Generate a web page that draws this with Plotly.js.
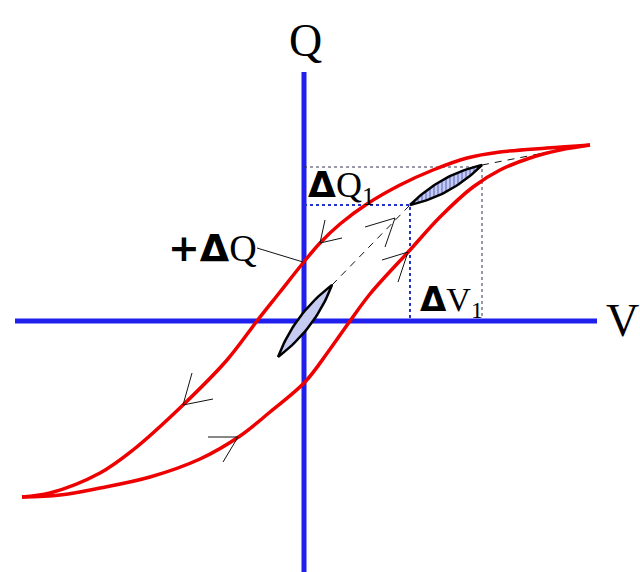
<!DOCTYPE html>
<html><head><meta charset="utf-8">
<script src="https://cdn.plot.ly/plotly-3.0.1.min.js"></script>
<style>html,body{margin:0;padding:0;background:#fff}#chart{width:640px;height:572px}</style>
</head><body><div id="chart"></div>
<script>
// Hysteresis loop (origin at axis crossing, 1 unit ≈ 1 px)
const upperV = [286, 243, 196, 163, 129, 96, 63, 36, 16, -1, -24, -47, -77, -121, -171, -204, -254, -282];
const upperQ = [176, 173, 169, 163, 151, 136, 117, 97, 78, 58, 29, 0, -39, -84, -129, -152, -172, -176];
const lowerV = [-282, -244, -204, -154, -104, -64, -34, 1, 24, 46, 66, 106, 136, 169, 196, 226, 256, 286];
const lowerQ = [-176, -174, -167, -156, -138, -115, -91, -61, -31, 0, 27, 71, 104, 134, 151, 163, 171, 176];

// axes extents
const axisV = [-289, 293];
const axisQ = [-251, 249];

// small minor loops (lens tips)
const lensSmallTips = [[-26, -36], [28, 36]];
const lensBigTips = [[106, 116], [178, 156]];
const lensSmallBulge = 13, lensBigBulge = 12;

// dashed path of the minor excursion
const dashV1 = [28, 106], dashQ1 = [36, 116];
const dashV2 = [178, 276], dashQ2 = [156, 175];

// increments
const dV1 = 106, dQ1 = 116;     // blue dotted
const dV2 = 178, dQ2 = 154;     // grey dotted

// arrow chevrons: [tip, wing1, wing2]
const arrows = [
  [[16, 78], [21, 101], [38, 83]],
  [[104, 69], [78, 61], [94, 39]],
  [[-121, -84], [-112, -52], [-91, -78]],
  [[-66, -116], [-96, -116], [-81, -141]],
  [[91, 103], [61, 94], [81, 74]]
];
const leader = [[-47, 73], [-1, 59]];

function lens(t, b) {
  const [a, c] = t;
  const mx = (a[0] + c[0]) / 2, my = (a[1] + c[1]) / 2;
  const dx = c[0] - a[0], dy = c[1] - a[1];
  const L = Math.hypot(dx, dy), nx = -dy / L, ny = dx / L;
  const xs = [], ys = [];
  const n = 30;
  for (const s of [1, -1]) {
    const cx = mx + s * nx * b, cy = my + s * ny * b;
    for (let i = 0; i <= n; i++) {
      const u = s === 1 ? i / n : 1 - i / n;
      xs.push((1 - u) * (1 - u) * a[0] + 2 * (1 - u) * u * cx + u * u * c[0]);
      ys.push((1 - u) * (1 - u) * a[1] + 2 * (1 - u) * u * cy + u * u * c[1]);
    }
  }
  return [xs, ys];
}

const traces = [];
const BLUE = '#1f1fee', RED = '#ee0000';
// axes
traces.push({x: axisV, y: [0, 0], mode: 'lines', line: {color: BLUE, width: 5}, hoverinfo: 'skip'});
traces.push({x: [0, 0], y: axisQ, mode: 'lines', line: {color: BLUE, width: 5}, hoverinfo: 'skip'});
// dotted guides
traces.push({x: [0, dV2, dV2], y: [dQ2, dQ2, 3], mode: 'lines', line: {color: '#333355', width: 1, dash: '3px,3px'}, hoverinfo: 'skip'});
traces.push({x: [0, dV1, dV1], y: [dQ1, dQ1, 3], mode: 'lines', line: {color: '#2233cc', width: 2, dash: '3px,3px'}, hoverinfo: 'skip'});
// dashed path
traces.push({x: dashV1, y: dashQ1, mode: 'lines', line: {color: '#111', width: 1, dash: '7px,6px'}, hoverinfo: 'skip'});
traces.push({x: dashV2, y: dashQ2, mode: 'lines', line: {color: '#111', width: 1, dash: '7px,6px'}, hoverinfo: 'skip'});
// hysteresis curves
traces.push({x: upperV, y: upperQ, mode: 'lines', line: {color: RED, width: 3.5, shape: 'spline', smoothing: 1}, hoverinfo: 'skip'});
traces.push({x: lowerV, y: lowerQ, mode: 'lines', line: {color: RED, width: 3.5, shape: 'spline', smoothing: 1}, hoverinfo: 'skip'});
// lenses
const [sx, sy] = lens(lensSmallTips, lensSmallBulge);
traces.push({x: sx, y: sy, mode: 'lines', fill: 'toself', fillcolor: '#c6cbf2', line: {color: '#000', width: 2.5}, hoverinfo: 'skip'});
const [bx, by] = lens(lensBigTips, lensBigBulge);
traces.push({x: bx, y: by, mode: 'lines', fill: 'toself', fillcolor: '#c6cbf2',
  fillpattern: {shape: '|', bgcolor: '#c6cbf2', fgcolor: '#5560c0', size: 4, solidity: 0.25},
  line: {color: '#000', width: 2.5}, hoverinfo: 'skip'});
// arrows
for (const a of arrows) {
  traces.push({x: [a[1][0], a[0][0], a[2][0]], y: [a[1][1], a[0][1], a[2][1]], mode: 'lines', line: {color: '#111', width: 1}, hoverinfo: 'skip'});
}
traces.push({x: [leader[0][0], leader[1][0]], y: [leader[0][1], leader[1][1]], mode: 'lines', line: {color: '#111', width: 1}, hoverinfo: 'skip'});

const serif = 'Liberation Serif, Times New Roman, serif';
const D = '<span style="font-family:DejaVu Sans"><b>Δ</b></span>';
const annotations = [
  {x: 1, y: 281, text: 'Q', font: {family: serif, size: 46, color: '#000'}},
  {x: 318, y: 1, text: 'V', font: {family: serif, size: 46, color: '#000'}},
  {x: -92, y: 73, text: '<span style="font-family:DejaVu Sans"><b>+Δ</b></span>Q', font: {family: serif, size: 38, color: '#000'}},
  {x: 2, y: 134, xanchor: 'left', text: D + 'Q<sub>1</sub>', font: {family: serif, size: 36, color: '#000'}},
  {x: 114, y: 20, xanchor: 'left', text: D + 'V<sub>1</sub>', font: {family: serif, size: 34, color: '#000'}}
].map(a => Object.assign({showarrow: false, xref: 'x', yref: 'y'}, a));

const layout = {
  width: 640, height: 572, margin: {l: 0, r: 0, t: 0, b: 0},
  paper_bgcolor: '#fff', plot_bgcolor: '#fff', showlegend: false,
  xaxis: {range: [-304, 336], visible: false, fixedrange: true},
  yaxis: {range: [-251, 321], visible: false, fixedrange: true},
  annotations
};
Plotly.newPlot('chart', traces, layout, {staticPlot: true, displayModeBar: false});
</script></body></html>
